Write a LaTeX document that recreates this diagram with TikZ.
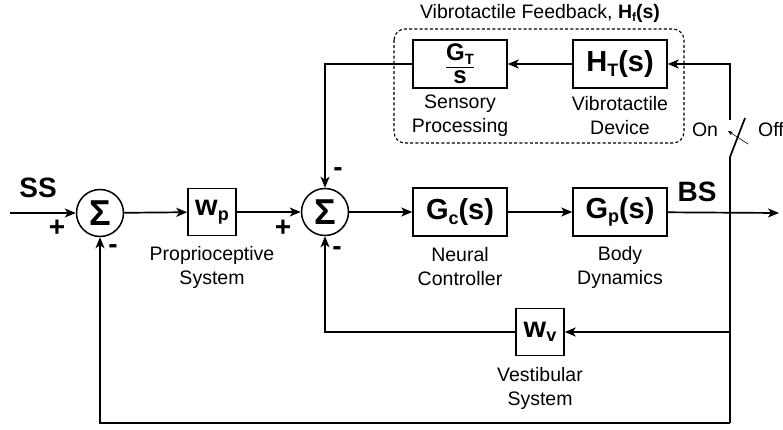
\documentclass[tikz,border=0pt]{standalone}
\usepackage{fontspec}
\setmainfont{Liberation Sans}
\usetikzlibrary{positioning,arrows.meta,calc}
\newcommand{\indice}[1]{\raisebox{-0.3ex}{\scalebox{0.62}{#1}}}

\begin{document}
\begin{tikzpicture}[x=1pt,y=-1pt,
    bloco/.style={draw, line width=1.5pt, minimum width=94pt, minimum height=48pt, inner sep=0pt, font=\fontsize{29}{31}\selectfont\bfseries},
    peso/.style={draw, line width=1.5pt, minimum width=48pt, minimum height=47pt, inner sep=0pt, font=\fontsize{29}{31}\selectfont\bfseries},
    soma/.style={draw, circle, line width=1.5pt, minimum size=47pt, inner sep=0pt, font=\fontsize{36}{38}\selectfont\bfseries},
    rotulo/.style={align=center, font=\fontsize{19.5}{24}\selectfont},
    sinal/.style={font=\fontsize{28}{30}\selectfont\bfseries},
    fio/.style={line width=1.7pt},
    seta/.style={fio, -{Stealth[length=11pt,width=9pt,inset=3pt]}}]
        \useasboundingbox (0,0) rectangle (783,430);

        % Malha principal
        \node[soma] (s1) at (100,213) {Σ};
        \node[peso] (wp) at (212,212) {w\indice{p}};
        \node[soma] (s2) at (325,212) {Σ};
        \node[bloco] (gc) at (460,212) {G\indice{c}(s)};
        \node[bloco] (gp) at (620,212) {G\indice{p}(s)};
        \coordinate (ent) at (10,213);
        \coordinate (saida) at (779,213);
        \draw[seta] (ent) -- (s1);
        \draw[seta] (s1) -- (wp);
        \draw[seta] (wp) -- (s2);
        \draw[seta] (s2) -- (gc);
        \draw[seta] (gc) -- (gp);
        \draw[seta] (gp) -- (saida);
        \node[sinal] (ss) at (38,188) {SS};
        \node[sinal] (bs) at (697,192) {BS};
        \node[sinal] (mais1) at (57,228) {+};
        \node[sinal] (menos1) at (113,249) {-};
        \node[sinal] (mais2) at (283,228) {+};
        \node[sinal] (menos2) at (338,172) {-};
        \node[sinal] (menos3) at (337,251) {-};

        % Realimentacao vibrotatil
        \draw[line width=1.1pt, dash pattern=on 3pt off 2.2pt, rounded corners=11pt] (394,29) rectangle (684,143);
        \node[font=\fontsize{19.5}{24}\selectfont] (titulo) at (540,13) {Vibrotactile Feedback, \textbf{H\indice{f}(s)}};
        \node[bloco, font=\fontsize{24}{26}\selectfont\bfseries] (gt) at (460,64)
            {\vbox{\hbox to 28pt{\hss G\indice{T}\hss}\kern2pt\hrule height 1.8pt\kern2.5pt\hbox to 28pt{\hss s\hss}}};
        \node[bloco] (ht) at (620,64) {H\indice{T}(s)};
        \draw[seta] (ht) -- (gt);
        \draw[seta] (gt) -| (s2);

        % Chave
        \coordinate (cs) at (730,120);
        \coordinate (ci) at (730,157);
        \coordinate (lamina) at (745,118);
        \coordinate (fundo) at (730,423);
        \coordinate (rv) at (730,332);
        \draw[seta] (cs) |- (ht);
        \draw[fio] (ci) -- (lamina);
        \draw[fio] (ci) -- (fundo);
        \draw[line width=0.6pt, -{Stealth[length=5pt,width=4pt]}] (748,144) -- (728,131);
        \node[font=\fontsize{19.5}{24}\selectfont] (on) at (705,130) {On};
        \node[font=\fontsize{19.5}{24}\selectfont] (off) at (771,130) {Off};

        % Vestibular e proprioceptivo
        \node[peso] (wv) at (540,332) {w\indice{v}};
        \draw[seta] (rv) -- (wv);
        \draw[seta] (wv) -| (s2);
        \draw[seta] (fundo) -| (s1);

        % Rotulos
        \node[rotulo] (lprop) at (212,267) {Proprioceptive\\System};
        \node[rotulo] (lneur) at (460,267) {Neural\\Controller};
        \node[rotulo] (lcorpo) at (620,267) {Body\\Dynamics};
        \node[rotulo] (lsens) at (460,116) {Sensory\\Processing};
        \node[rotulo] (lvib) at (620,116) {Vibrotactile\\Device};
        \node[rotulo] (lvest) at (540,388) {Vestibular\\System};
    \end{tikzpicture}
\end{document}
